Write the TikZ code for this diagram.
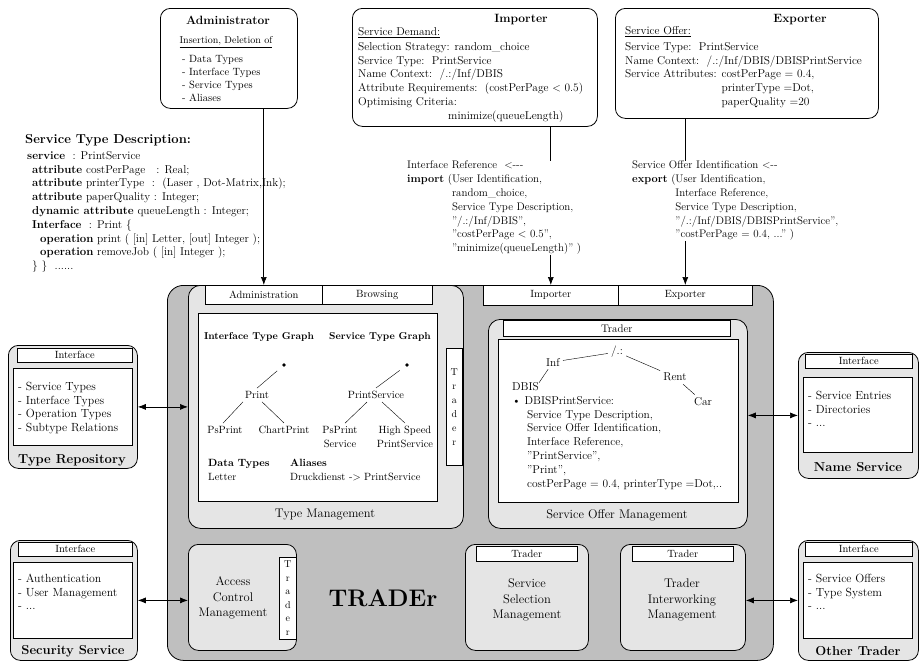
\documentclass[tikz,border=0pt]{standalone}
\usepackage{tikz}
\usetikzlibrary{arrows.meta,calc,positioning}

\newcommand{\fsz}[1]{\fontsize{#1}{13.8}\selectfont}

\begin{document}
\begin{tikzpicture}[
    x=1pt, y=-1pt,
    >={Latex[length=8pt,width=6pt]},
    every node/.style={inner sep=0pt},
    panel/.style={draw, line width=0.8pt, rounded corners=10pt, anchor=north west},
    lightpanel/.style={panel, fill=gray!20},
    sheet/.style={draw, line width=0.6pt, fill=white, anchor=north west},
    tab/.style={draw, line width=0.6pt, fill=white, anchor=north west, font=\fsz{10.5}},
    vtab/.style={tab, align=center, font=\fontsize{10}{14}\selectfont},
    txt/.style={anchor=north west, align=left, font=\fsz{11.4}},
    list/.style={txt, font=\fontsize{11.8}{13.6}\selectfont},
    gtxt/.style={inner sep=3pt, font=\fsz{10.5}},
    ttl/.style={font=\fontsize{12}{14}\selectfont\bfseries},
    lbl/.style={font=\fontsize{13}{14}\selectfont\bfseries},
    mlbl/.style={align=center, font=\fontsize{12.5}{15.5}\selectfont},
    link/.style={line width=0.7pt}
]
\useasboundingbox (0,0) rectangle (922,664);

% Administrator
\node[panel, minimum width=137pt, minimum height=100pt] (admin) at (160,8) {};
\node[ttl] (admintitle) at (228,20) {Administrator};
\node[font=\fsz{10}] (adminsub) at (226,42) {\underline{Insertion, Deletion of}};
\node[txt, font=\fontsize{10.5}{13}\selectfont] (adminlist) at (182,55)
    {- Data Types\\- Interface Types\\- Service Types\\- Aliases};

% Importer
\node[panel, minimum width=245pt, minimum height=118pt] (importer) at (352,8) {};
\node[ttl] (imptitle) at (521,20) {Importer};
\node[txt] (impdemand) at (358,27) {\underline{Service Demand:}};
\node[txt] (implines) at (358,42)
    {Selection Strategy: random\_choice\\
     Service Type:\ \ PrintService\\
     Name Context:\ \ /.:/Inf/DBIS\\
     Attribute Requirements:\ \ (costPerPage $<$ 0.5)\\
     Optimising Criteria:\\
     \hspace*{90pt}minimize(queueLength)};

% Exporter
\node[panel, minimum width=263pt, minimum height=110pt] (exporter) at (615,8) {};
\node[ttl] (exptitle) at (800,20) {Exporter};
\node[txt] (expoffer) at (625,26) {\underline{Service Offer:}};
\node[txt] (explines) at (625,42)
    {Service Type:\ \ PrintService\\
     Name Context:\ \ /.:/Inf/DBIS/DBISPrintService\\
     Service Attributes: costPerPage = 0.4,\\
     \phantom{Service Attributes: }printerType =Dot,\\
     \phantom{Service Attributes: }paperQuality =20};

% Service type description
\node[anchor=west, font=\fontsize{13}{14}\selectfont\bfseries] (stdtitle) at (25,140)
    {Service Type Description:};
\node[txt] (stdcode) at (27,151)
    {\textbf{service}\ \ : PrintService\\
     \hspace*{5pt}\textbf{attribute} costPerPage\ \ \ : Real;\\
     \hspace*{5pt}\textbf{attribute} printerType\ \ :\ \ (Laser , Dot-Matrix,Ink);\\
     \hspace*{5pt}\textbf{attribute} paperQuality : Integer;\\
     \hspace*{5pt}\textbf{dynamic attribute} queueLength : Integer;\\
     \hspace*{5pt}\textbf{Interface}\ \ : Print \{\\
     \hspace*{13pt}\textbf{operation} print ( [in] Letter, [out] Integer );\\
     \hspace*{13pt}\textbf{operation} removeJob ( [in] Integer );\\
     \hspace*{5pt}\} \}\ \ ......};

% Import and export calls
\node[txt, font=\fsz{11}] (impcall) at (407,161)
    {Interface Reference\ \ \mbox{<{-}{-}{-}}\\
     \textbf{import}\ (User Identification,\\
     \phantom{\textbf{import}\ (}random\_choice,\\
     \phantom{\textbf{import}\ (}Service Type Description,\\
     \phantom{\textbf{import}\ (}"/.:/Inf/DBIS",\\
     \phantom{\textbf{import}\ (}"costPerPage $<$ 0.5",\\
     \phantom{\textbf{import}\ (}"minimize(queueLength)" )};
\node[txt, font=\fsz{11}] (expcall) at (632,161)
    {Service Offer Identification \mbox{<{-}{-}}\\
     \textbf{export}\ (User Identification,\\
     \phantom{\textbf{export}\ (}Interface Reference,\\
     \phantom{\textbf{export}\ (}Service Type Description,\\
     \phantom{\textbf{export}\ (}"/.:/Inf/DBIS/DBISPrintService",\\
     \phantom{\textbf{export}\ (}"costPerPage = 0.4, ..." )};

% TRADEr
\node[panel, fill=gray!50, rounded corners=16pt, minimum width=606pt, minimum height=375pt] (trader) at (167,285) {};

% Type management
\node[lightpanel, rounded corners=12pt, minimum width=275pt, minimum height=243pt] (typemgmt) at (188,285) {};
\node[tab, minimum width=117pt, minimum height=19pt] (admintab) at (205,285) {Administration};
\node[tab, minimum width=110pt, minimum height=19pt] (browsetab) at (322,285) {Browsing};
\node[sheet, minimum width=239pt, minimum height=188pt] (typesheet) at (198,313) {};
\node[vtab, minimum width=16pt, minimum height=117pt] (typetab) at (446,348) {T\\r\\a\\d\\e\\r};
\node[mlbl] (typelbl) at (325,515) {Type Management};

\node[font=\bfseries\fsz{10}] (itg) at (259,337) {Interface Type Graph};
\node[font=\bfseries\fsz{10}] (stg) at (380,337) {Service Type Graph};
\node[circle, fill, inner sep=1.3pt] (idot) at (284,365) {};
\node[circle, fill, inner sep=1.3pt] (sdot) at (407,365) {};
\node[gtxt] (print) at (257,395) {Print};
\node[gtxt] (psprint) at (225,430) {PsPrint};
\node[gtxt] (chartprint) at (284,430) {ChartPrint};
\node[gtxt] (printsvc) at (376,395) {PrintService};
\node[gtxt, align=center] (psprintsvc) at (340,437) {PsPrint\\Service};
\node[gtxt, align=center] (hsprintsvc) at (405,437) {High Speed\\PrintService};
\draw[shorten <=7pt] (idot) -- (print.north);
\draw[shorten <=7pt] (sdot) -- (printsvc.north);
\draw ([xshift=-14pt]print.south) -- ([xshift=-2pt]psprint.north);
\draw ([xshift=5pt]print.south) -- (chartprint.north);
\draw ([xshift=-9pt]printsvc.south) -- ([xshift=5pt]psprintsvc.north);
\draw ([xshift=6pt]printsvc.south) -- (hsprintsvc.north);
\node[txt, font=\fsz{10.5}] (datatypes) at (208,459) {\textbf{Data Types}\\Letter};
\node[txt, font=\fsz{10.5}] (aliases) at (290,459) {\textbf{Aliases}\\Druckdienst -> PrintService};

% Service offer management
\node[tab, minimum width=135pt, minimum height=20pt] (imptab) at (483,285) {Importer};
\node[tab, minimum width=134pt, minimum height=20pt] (exptab) at (618,285) {Exporter};
\node[lightpanel, rounded corners=12pt, minimum width=259pt, minimum height=209pt] (offermgmt) at (488,319) {};
\node[tab, minimum width=227pt, minimum height=16pt, font=\fsz{11}] (offertab) at (503,320) {Trader};
\node[sheet, minimum width=240pt, minimum height=163pt] (offersheet) at (498,339) {};
\node[mlbl] (offerlbl) at (617,515) {Service Offer Management};

\node[gtxt, font=\fsz{11.4}] (root) at (617,352) {/.:};
\node[gtxt, font=\fsz{11.4}] (inf) at (553,362) {Inf};
\node[gtxt, font=\fsz{11.4}] (rent) at (675,377) {Rent};
\node[gtxt, font=\fsz{11.4}] (car) at (703,402) {Car};
\node[gtxt, font=\fsz{11.4}, anchor=west, inner sep=0pt] (dbis) at (512,387) {DBIS};
\draw (inf) -- (root);
\draw (root) -- (rent);
\draw (rent) -- (car);
\draw (inf) -- (dbis.north east);
\node[txt] (offerentry) at (512,396)
    {\textbullet\ DBISPrintService:\\
     \hspace*{15pt}Service Type Description,\\
     \hspace*{15pt}Service Offer Identification,\\
     \hspace*{15pt}Interface Reference,\\
     \hspace*{15pt}"PrintService",\\
     \hspace*{15pt}"Print",\\
     \hspace*{15pt}costPerPage = 0.4, printerType =Dot,..};

% Bottom row
\node[lightpanel, minimum width=108pt, minimum height=106pt] (access) at (188,544) {};
\node[vtab, minimum width=17pt, minimum height=82pt, font=\fontsize{10}{13.5}\selectfont] (accesstab) at (279,557) {T\\r\\a\\d\\e\\r};
\node[mlbl] (accesslbl) at (233,598) {Access\\Control\\Management};
\node[font=\fontsize{24}{24}\selectfont\bfseries] (tradername) at (383,598) {TRADEr};
\node[lightpanel, minimum width=123pt, minimum height=106pt] (selection) at (465,544) {};
\node[tab, minimum width=101pt, minimum height=15pt] (selectiontab) at (476,546) {Trader};
\node[mlbl] (selectionlbl) at (527,600) {Service\\Selection\\Management};
\node[lightpanel, minimum width=125pt, minimum height=106pt] (interwork) at (620,544) {};
\node[tab, minimum width=101pt, minimum height=15pt] (interworktab) at (632,546) {Trader};
\node[mlbl] (interworklbl) at (682,600) {Trader\\Interworking\\Management};

% Type repository
\node[lightpanel, minimum width=129pt, minimum height=123pt] (typerepo) at (8,345) {};
\node[tab, minimum width=115pt, minimum height=14pt] (typerepotab) at (17,348) {Interface};
\node[sheet, minimum width=119pt, minimum height=77pt] (typereposheet) at (13,368) {};
\node[list] (typerepolist) at (18,382)
    {- Service Types\\- Interface Types\\- Operation Types\\- Subtype Relations};
\node[lbl] (typerepolbl) at (72,460) {Type Repository};

% Security service
\node[lightpanel, minimum width=127pt, minimum height=120pt] (secsvc) at (10,540) {};
\node[tab, minimum width=114pt, minimum height=14pt] (secsvctab) at (18,542) {Interface};
\node[sheet, minimum width=119pt, minimum height=76pt] (secsvcsheet) at (13,562) {};
\node[list] (secsvclist) at (18,574)
    {- Authentication\\- User Management\\- ...};
\node[lbl] (secsvclbl) at (73,651) {Security Service};

% Name service
\node[lightpanel, minimum width=120pt, minimum height=126pt] (namesvc) at (798,352) {};
\node[tab, minimum width=107pt, minimum height=14pt] (namesvctab) at (805,354) {Interface};
\node[sheet, minimum width=109pt, minimum height=75pt] (namesvcsheet) at (803,377) {};
\node[list] (namesvclist) at (808,391)
    {- Service Entries\\- Directories\\- ...};
\node[lbl] (namesvclbl) at (858,467) {Name Service};

% Other trader
\node[lightpanel, minimum width=120pt, minimum height=120pt] (othertrader) at (798,540) {};
\node[tab, minimum width=107pt, minimum height=14pt] (othertradertab) at (805,542) {Interface};
\node[sheet, minimum width=109pt, minimum height=76pt] (othertradersheet) at (803,562) {};
\node[list] (othertraderlist) at (808,574)
    {- Service Offers\\- Type System\\- ...};
\node[lbl] (othertraderlbl) at (858,651) {Other Trader};

% Connectors
\draw[link,->] (admin.south -| admintab.north) -- (admintab.north);
\draw[link] (importer.south -| imptab.north) -- (impcall.north -| imptab.north);
\draw[link,->] (impcall.south -| imptab.north) -- (imptab.north);
\draw[link] (exporter.south -| exptab.north) -- (expcall.north -| exptab.north);
\draw[link,->] (expcall.south -| exptab.north) -- (exptab.north);
\draw[link,<->] (typerepo) -- (typerepo -| typemgmt.west);
\draw[link,<->] (secsvc) -- (secsvc -| access.west);
\draw[link,<->] (namesvc) -- (namesvc -| offermgmt.east);
\draw[link,<->] (othertrader) -- (othertrader -| interwork.east);

\end{tikzpicture}
\end{document}
